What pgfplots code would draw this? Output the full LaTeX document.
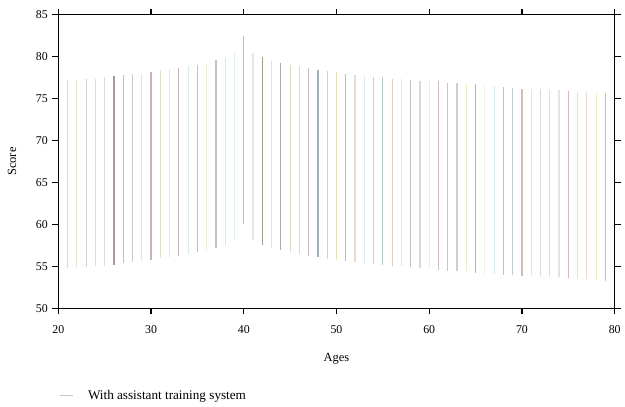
\documentclass[border=0pt]{standalone}
\usepackage{fontspec}
\setmainfont{Liberation Serif}
\usepackage{pgfplots}
\pgfplotsset{compat=1.18}
\usetikzlibrary{calc}
\newcommand{\seg}[6]{\addplot[draw={rgb,255:red,#4;green,#5;blue,#6}, line width=0.85pt, forget plot] coordinates {(#1,#2) (#1,#3)};}
\begin{document}
\begin{tikzpicture}
\begin{axis}[
  name=ax,
  scale only axis,
  width=422.25pt, height=222.75pt,
  xmin=20, xmax=80, ymin=50, ymax=85,
  xtick={20,30,...,80}, ytick={50,55,...,85},
  tick pos=both, tick align=outside,
  major tick length=4.5pt,
  xticklabel pos=bottom, yticklabel pos=left,
  axis line style={line width=0.9pt},
  every tick/.style={black, line width=0.9pt},
  /pgf/number format/assume math mode=true,
  ticklabel style={font=\fontsize{9}{10}\selectfont},
  xticklabel style={yshift=-5pt},
  label style={font=\fontsize{9.5}{11}\selectfont},
  xlabel={Ages}, ylabel={Score},
  xlabel style={yshift=-8pt},
  ylabel style={yshift=8pt},
  legend style={at={(0,0)}, anchor=north west, xshift=-2.5pt, yshift=-58pt, draw=none, fill=none, font=\fontsize{10}{12}\selectfont},
  legend cell align=left,
  legend image code/.code={\draw[#1] (0pt,0pt) -- (10pt,0pt); \path (19pt,0pt);},
]
\seg{21}{54.8}{77.2}{224}{214}{214}
\seg{22}{54.9}{77.2}{230}{228}{200}
\seg{23}{54.9}{77.4}{220}{204}{214}
\seg{24}{55.05}{77.4}{222}{222}{196}
\seg{25}{55.1}{77.55}{212}{222}{226}
\seg{26}{55.2}{77.7}{168}{150}{158}
\seg{27}{55.35}{77.8}{180}{194}{198}
\seg{28}{55.5}{77.95}{206}{196}{192}
\seg{29}{55.7}{78.0}{238}{228}{204}
\seg{30}{55.8}{78.2}{196}{178}{188}
\seg{31}{55.95}{78.4}{222}{222}{204}
\seg{32}{56.1}{78.5}{216}{230}{234}
\seg{33}{56.25}{78.7}{196}{180}{192}
\seg{34}{56.45}{78.9}{216}{236}{236}
\seg{35}{56.7}{79.05}{228}{180}{156}
\seg{36}{57.0}{79.25}{242}{238}{216}
\seg{37}{57.2}{79.6}{204}{188}{200}
\seg{38}{57.5}{79.9}{228}{228}{204}
\seg{39}{58.15}{80.5}{220}{238}{238}
\seg{40}{60.0}{82.5}{212}{180}{192}
\seg{41}{58.1}{80.5}{224}{234}{234}
\seg{42}{57.5}{79.95}{164}{156}{138}
\seg{43}{57.2}{79.55}{234}{226}{196}
\seg{44}{56.95}{79.3}{180}{164}{176}
\seg{45}{56.7}{79.0}{220}{220}{200}
\seg{46}{56.5}{78.85}{208}{218}{218}
\seg{47}{56.25}{78.6}{204}{188}{200}
\seg{48}{56.1}{78.45}{164}{176}{188}
\seg{49}{55.9}{78.25}{216}{208}{200}
\seg{50}{55.75}{78.2}{230}{224}{188}
\seg{51}{55.65}{78.0}{200}{180}{196}
\seg{52}{55.5}{77.85}{224}{224}{208}
\seg{53}{55.4}{77.75}{220}{234}{236}
\seg{54}{55.3}{77.6}{216}{204}{212}
\seg{55}{55.2}{77.55}{180}{200}{204}
\seg{56}{55.05}{77.4}{234}{204}{188}
\seg{57}{55.0}{77.3}{240}{232}{172}
\seg{58}{54.9}{77.25}{204}{188}{200}
\seg{59}{54.8}{77.1}{220}{216}{212}
\seg{60}{54.8}{77.05}{228}{238}{238}
\seg{61}{54.6}{77.05}{208}{188}{200}
\seg{62}{54.5}{76.9}{192}{202}{206}
\seg{63}{54.4}{76.85}{216}{200}{208}
\seg{64}{54.4}{76.7}{238}{234}{196}
\seg{65}{54.25}{76.7}{188}{176}{188}
\seg{66}{54.15}{76.55}{240}{240}{230}
\seg{67}{54.1}{76.5}{212}{234}{234}
\seg{68}{54.0}{76.4}{204}{184}{196}
\seg{69}{54.0}{76.3}{192}{206}{206}
\seg{70}{53.9}{76.2}{204}{192}{180}
\seg{71}{53.85}{76.15}{234}{230}{204}
\seg{72}{53.8}{76.15}{220}{216}{228}
\seg{73}{53.75}{76.05}{226}{226}{200}
\seg{74}{53.7}{76.0}{220}{230}{230}
\seg{75}{53.6}{75.95}{212}{184}{196}
\seg{76}{53.55}{75.85}{216}{226}{234}
\seg{77}{53.5}{75.8}{238}{216}{204}
\seg{78}{53.4}{75.65}{238}{234}{196}
\seg{79}{53.3}{75.7}{196}{188}{204}
\addlegendimage{draw={rgb,255:red,188;green,202;blue,196}, line width=0.85pt}
\addlegendentry{With assistant training system}
\end{axis}
\path[use as bounding box] ($(ax.south west)+(-44.25pt,-67.5pt)$) rectangle ($(ax.north east)+(2.25pt,11.25pt)$);
\end{tikzpicture}
\end{document}
